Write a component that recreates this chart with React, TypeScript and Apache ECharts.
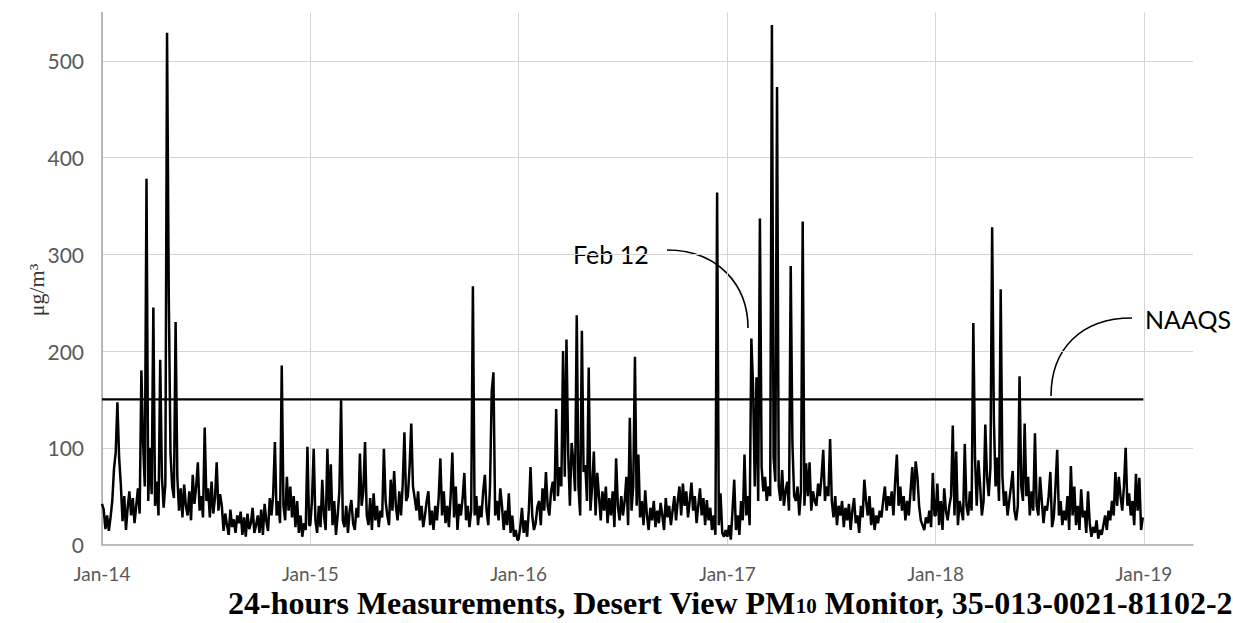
import { useEffect, useRef } from 'react';
import * as echarts from 'echarts';

// 24-hour PM10 values (µg/m³), read every third day starting 1 January of each year
const pm10_2014 = [
  42, 36, 16, 30, 14, 28, 45, 78, 95, 147,
  90, 62, 24, 50, 15, 38, 55, 30, 48, 22,
  40, 58, 32, 180, 105, 60, 378, 45, 100, 52,
  245, 40, 65, 30, 191, 70, 38, 62, 529, 259,
  95, 60, 48, 230, 70, 35, 58, 28, 62, 40,
  30, 55, 25, 72, 42, 60, 85, 35, 50, 28,
  121, 45, 58, 28, 65, 32, 48, 85, 35, 52,
  40, 14, 32, 20, 10, 36, 18, 26, 12, 30,
  22, 34, 10, 28, 8, 32, 16, 22, 38, 12,
  20, 30, 12, 36, 10, 42, 24, 14, 48, 30,
  52, 106, 30, 45, 22, 185, 40, 25, 70, 35,
  60, 28, 50, 18, 45, 12, 30, 8, 22, 15, 101, 20,
];
const pm10_2015 = [
  20, 45, 99, 25, 12, 40, 18, 67, 30, 15,
  99, 35, 83, 20, 45, 10, 30, 55, 149, 25,
  18, 40, 12, 35, 46, 22, 15, 38, 28, 94,
  40, 55, 106, 30, 20, 48, 15, 53, 25, 40,
  18, 35, 28, 99, 45, 30, 20, 67, 35, 76,
  40, 25, 55, 30, 62, 116, 45, 50, 80, 125,
  60, 48, 35, 55, 25, 40, 18, 30, 45, 55,
  20, 35, 15, 40, 25, 48, 89, 30, 55, 22,
  40, 18, 50, 95, 28, 60, 15, 42, 30, 48,
  74, 25, 40, 18, 35, 267, 30, 50, 20, 40,
  28, 55, 72, 35, 20, 60, 158, 178, 30, 45,
  25, 58, 40, 15, 35, 20, 53, 12, 30, 8, 15, 5,
];
const pm10_2016 = [
  5, 18, 38, 12, 25, 8, 35, 80, 30, 15,
  22, 39, 45, 20, 58, 35, 75, 40, 30, 55,
  65, 45, 140, 50, 80, 60, 200, 70, 212, 95,
  40, 105, 87, 55, 237, 60, 30, 221, 75, 82,
  45, 183, 35, 60, 96, 30, 74, 50, 25, 55,
  35, 60, 22, 48, 30, 55, 18, 89, 40, 25,
  50, 30, 45, 70, 20, 131, 35, 60, 194, 40,
  93, 28, 45, 20, 56, 30, 15, 38, 25, 45,
  18, 35, 22, 43, 30, 15, 48, 28, 40, 20,
  35, 50, 25, 45, 60, 30, 63, 40, 55, 28,
  45, 64, 35, 50, 22, 40, 58, 30, 48, 20,
  46, 25, 38, 15, 30, 10, 364, 20, 53, 12, 8, 15,
];
const pm10_2017 = [
  8, 20, 5, 35, 67, 15, 30, 10, 45, 25,
  93, 30, 50, 20, 213, 163, 60, 173, 45, 337,
  80, 55, 70, 45, 60, 50, 537, 90, 65, 473,
  60, 45, 77, 40, 55, 65, 35, 288, 104, 50,
  45, 60, 30, 55, 334, 40, 84, 50, 85, 35,
  55, 45, 40, 63, 50, 70, 98, 45, 60, 50,
  109, 45, 28, 50, 20, 40, 30, 45, 18, 38,
  25, 42, 15, 35, 48, 22, 30, 12, 40, 28,
  67, 45, 30, 50, 20, 38, 15, 30, 22, 35,
  28, 45, 60, 35, 50, 40, 55, 30, 65, 93,
  40, 60, 35, 50, 25, 45, 30, 55, 80, 45,
  86, 70, 40, 25, 20, 15, 28, 22, 35, 18, 74, 30,
];
const pm10_2018 = [
  30, 63, 20, 45, 15, 58, 35, 25, 40, 50,
  123, 30, 96, 20, 45, 35, 25, 104, 40, 30,
  55, 35, 229, 89, 40, 87, 60, 30, 45, 124,
  70, 50, 80, 328, 130, 60, 90, 45, 264, 70,
  40, 55, 30, 45, 60, 76, 35, 25, 40, 174,
  60, 45, 125, 50, 70, 30, 55, 35, 115, 40,
  30, 70, 45, 22, 40, 35, 50, 75, 18, 28,
  60, 98, 30, 45, 20, 35, 25, 50, 15, 81,
  30, 60, 20, 40, 15, 57, 28, 35, 12, 55,
  22, 8, 18, 12, 25, 6, 15, 10, 20, 30,
  15, 35, 25, 45, 30, 75, 40, 70, 50, 35,
  60, 100, 40, 53, 30, 45, 20, 73, 35, 69, 15, 28,
];

const years = [2014, 2015, 2016, 2017, 2018];
const yearlySeries = [pm10_2014, pm10_2015, pm10_2016, pm10_2017, pm10_2018];
const stepDays = 3;
const naaqs = 150;
const yTicks = [0, 100, 200, 300, 400, 500];

const DAY = 24 * 3600 * 1000;

function buildPoints(): [number, number][] {
  const pts: [number, number][] = [];
  years.forEach((yr, k) => {
    yearlySeries[k].forEach((v, i) => {
      pts.push([new Date(yr, 0, 1 + stepDays * i).getTime(), v]);
    });
  });
  return pts;
}

export default function App() {
  const ref = useRef<HTMLDivElement>(null);
  useEffect(() => {
    if (!ref.current) return;
    const chart = echarts.init(ref.current, undefined, { renderer: 'svg' });
    const points = buildPoints();
    const xMin = new Date(2014, 0, 1).getTime();
    const xMax = new Date(2019, 2, 28).getTime();
    const naaqsPts = [
      [xMin, naaqs],
      [new Date(2018, 11, 31).getTime(), naaqs],
    ];
    const labelFont = 'Lato, "Open Sans", sans-serif';
    chart.setOption({
      animation: false,
      backgroundColor: '#ffffff',
      grid: { left: 102, right: 40, top: 12.5, bottom: 78.5, containLabel: false },
      xAxis: {
        type: 'time',
        min: xMin,
        max: xMax,
        minInterval: 365 * DAY,
        maxInterval: 366 * DAY,
        axisLine: { show: true, lineStyle: { color: '#a6a6a6', width: 1.5 } },
        axisTick: { show: false },
        axisLabel: {
          color: '#595959',
          fontSize: 19,
          fontFamily: labelFont,
          margin: 20,
          lineHeight: 18,
          hideOverlap: false,
          formatter: (val: number) => {
            const d = new Date(val);
            if (d.getMonth() === 0 && d.getDate() === 1) {
              return 'Jan-' + String(d.getFullYear()).slice(2);
            }
            return '';
          },
        },
        splitLine: {
          show: true,
          showMinLine: false,
          showMaxLine: false,
          lineStyle: { color: '#d4d4d4', width: 1 },
        },
      },
      yAxis: {
        type: 'value',
        min: 0,
        max: 550,
        interval: 100,
        axisLine: { show: true, lineStyle: { color: '#a6a6a6', width: 1.5 } },
        axisTick: { show: false },
        axisLabel: {
          color: '#595959',
          fontSize: 21,
          fontFamily: labelFont,
          margin: 18,
          showMaxLabel: false,
          formatter: (v: number) => (yTicks.includes(v) ? String(v) : ''),
        },
        splitLine: {
          show: true,
          showMinLine: false,
          showMaxLine: false,
          lineStyle: { color: '#d4d4d4', width: 1 },
        },
      },
      series: [
        {
          type: 'line',
          data: points,
          showSymbol: false,
          symbol: 'none',
          lineStyle: { color: '#000000', width: 2.5 },
          z: 3,
        },
        {
          type: 'line',
          data: naaqsPts,
          showSymbol: false,
          symbol: 'none',
          lineStyle: { color: '#000000', width: 2.2 },
          z: 4,
        },
      ],
      graphic: [
        {
          type: 'text',
          x: 36,
          y: 290,
          rotation: Math.PI / 2,
          style: {
            text: 'μg/m³',
            font: '22px "Liberation Serif", serif',
            fill: '#333333',
            align: 'center',
            verticalAlign: 'middle',
          },
        },
        {
          type: 'text',
          x: 573,
          y: 254,
          style: {
            text: 'Feb 12',
            font: '25px ' + labelFont,
            fill: '#000000',
            align: 'left',
            verticalAlign: 'middle',
          },
        },
        {
          type: 'bezierCurve',
          shape: { x1: 667, y1: 250, cpx1: 718, cpy1: 250, cpx2: 748, cpy2: 285, x2: 748, y2: 328 },
          style: { stroke: '#000000', lineWidth: 1.6, fill: 'none' },
        },
        {
          type: 'text',
          x: 1145,
          y: 319,
          style: {
            text: 'NAAQS',
            font: '25px ' + labelFont,
            fill: '#000000',
            align: 'left',
            verticalAlign: 'middle',
          },
        },
        {
          type: 'bezierCurve',
          shape: { x1: 1132, y1: 318, cpx1: 1080, cpy1: 318, cpx2: 1051, cpy2: 350, x2: 1051, y2: 396 },
          style: { stroke: '#000000', lineWidth: 1.6, fill: 'none' },
        },
        {
          type: 'text',
          x: 228,
          y: 603,
          style: {
            text: '24-hours Measurements, Desert View PM{sub|10} Monitor, 35-013-0021-81102-2',
            font: 'bold 32px "Liberation Serif", serif',
            fill: '#000000',
            align: 'left',
            verticalAlign: 'middle',
            lineHeight: 26,
            rich: {
              sub: {
                fontSize: 21,
                fontWeight: 'bold',
                fontFamily: '"Liberation Serif", serif',
                verticalAlign: 'bottom',
                lineHeight: 26,
                fill: '#000000',
              },
            },
          },
        },
      ],
    });
    return () => chart.dispose();
  }, []);
  return (
    <div
      ref={ref}
      style={{ position: 'fixed', left: 0, top: 0, width: 1233, height: 623 }}
    />
  );
}
